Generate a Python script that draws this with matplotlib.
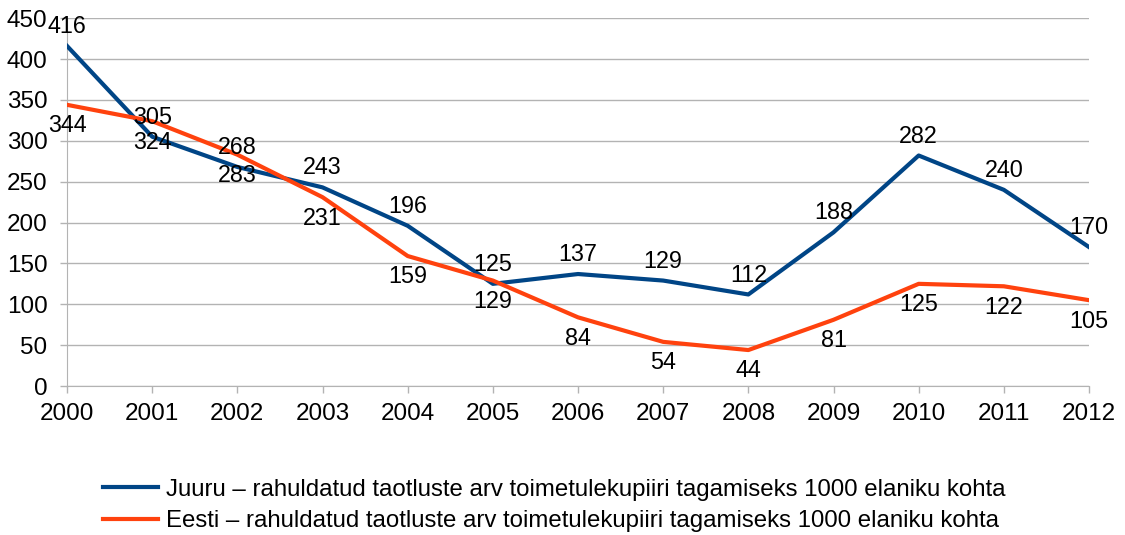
import matplotlib.pyplot as plt

plt.rcParams['font.family'] = ['Liberation Sans', 'DejaVu Sans']

years = [2000, 2001, 2002, 2003, 2004, 2005, 2006, 2007, 2008, 2009, 2010, 2011, 2012]
juuru = [416, 305, 268, 243, 196, 125, 137, 129, 112, 188, 282, 240, 170]
eesti = [344, 324, 283, 231, 159, 129, 84, 54, 44, 81, 125, 122, 105]
juuru_label = "Juuru – rahuldatud taotluste arv toimetulekupiiri tagamiseks 1000 elaniku kohta"
eesti_label = "Eesti – rahuldatud taotluste arv toimetulekupiiri tagamiseks 1000 elaniku kohta"

blue = '#004586'
orange = '#ff420e'
fs = 16.8

fig = plt.figure(figsize=(11.25, 5.35), dpi=100)
ax = fig.add_axes([0.0596, 0.2785, 0.9084, 0.6875])

ax.plot(years, juuru, color=blue, lw=3, label=juuru_label, zorder=3)
ax.plot(years, eesti, color=orange, lw=3, label=eesti_label, zorder=3)

# blue labels above, orange labels below
for x, y in zip(years, juuru):
    ax.annotate(str(y), (x, y), xytext=(0, 14), textcoords='offset points',
                ha='center', va='center', fontsize=fs, zorder=4)
for x, y in zip(years, eesti):
    ax.annotate(str(y), (x, y), xytext=(0, -15), textcoords='offset points',
                ha='center', va='center', fontsize=fs, zorder=4)

ax.set_xlim(2000, 2012)
ax.set_ylim(0, 450)
ax.set_xticks(years)
ax.set_yticks(range(0, 451, 50))
ax.tick_params(labelsize=17.5, color='#b3b3b3', length=5, width=1)
ax.tick_params(axis='x', pad=7)
ax.tick_params(axis='y', pad=9)
ax.grid(axis='y', color='#b3b3b3', lw=1)
ax.set_axisbelow(True)
for s in ['top', 'right']:
    ax.spines[s].set_visible(False)
for s in ['left', 'bottom']:
    ax.spines[s].set_color('#b3b3b3')

fig.legend(loc='upper left', bbox_to_anchor=(0.0916, 0.105), frameon=False,
           fontsize=17.3, handlelength=2.3, handletextpad=0.3, labelspacing=0.4,
           borderpad=0, borderaxespad=0)

fig.savefig('out.png', dpi=100)
